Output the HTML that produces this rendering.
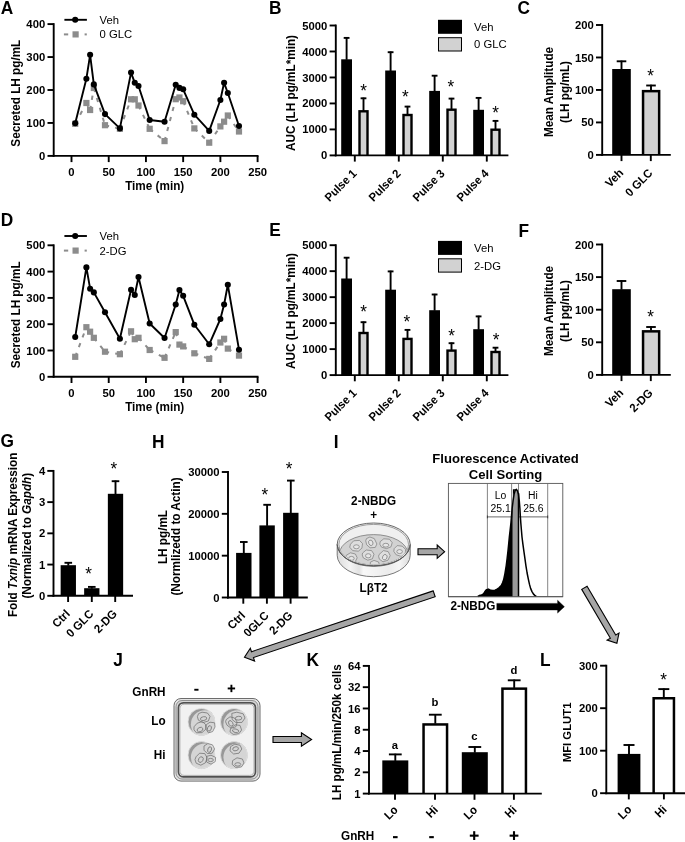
<!DOCTYPE html>
<html lang="en">
<head>
<meta charset="utf-8">
<title>Figure</title>
<style>
html,body{margin:0;padding:0;background:#fff;}
body{width:685px;height:842px;overflow:hidden;font-family:"Liberation Sans", sans-serif;}
svg{display:block;filter:grayscale(1) blur(0.38px);}
svg text{font-family:"Liberation Sans", sans-serif;fill:#000;}
</style>
</head>
<body>
<svg width="685" height="842" viewBox="0 0 685 842">
<rect x="0" y="0" width="685" height="842" fill="#fff"/>
<g stroke="#8c8c8c" stroke-width="2" stroke-dasharray="4.2 6.15" fill="none">
<line x1="75.22" y1="123.8" x2="86.39" y2="103"/>
<line x1="86.39" y1="103" x2="90.11" y2="110"/>
<line x1="90.11" y1="110" x2="93.83" y2="88"/>
<line x1="93.83" y1="88" x2="105" y2="125.2"/>
<line x1="105" y1="125.2" x2="119.89" y2="128.8"/>
<line x1="119.89" y1="128.8" x2="131.05" y2="99.3"/>
<line x1="131.05" y1="99.3" x2="134.77" y2="99.3"/>
<line x1="134.77" y1="99.3" x2="138.5" y2="105.5"/>
<line x1="138.5" y1="105.5" x2="149.66" y2="128.8"/>
<line x1="149.66" y1="128.8" x2="164.55" y2="141.1"/>
<line x1="164.55" y1="141.1" x2="175.72" y2="99.2"/>
<line x1="175.72" y1="99.2" x2="179.44" y2="97.5"/>
<line x1="179.44" y1="97.5" x2="183.16" y2="101.2"/>
<line x1="183.16" y1="101.2" x2="194.33" y2="128.4"/>
<line x1="194.33" y1="128.4" x2="209.21" y2="142.7"/>
<line x1="209.21" y1="142.7" x2="220.38" y2="126.4"/>
<line x1="220.38" y1="126.4" x2="224.1" y2="121.7"/>
<line x1="224.1" y1="121.7" x2="227.82" y2="115.5"/>
<line x1="227.82" y1="115.5" x2="238.99" y2="131.5"/>
</g>
<rect x="72.12" y="120.7" width="6.2" height="6.2" fill="#8c8c8c" />
<rect x="83.29" y="99.9" width="6.2" height="6.2" fill="#8c8c8c" />
<rect x="87.01" y="106.9" width="6.2" height="6.2" fill="#8c8c8c" />
<rect x="90.73" y="84.9" width="6.2" height="6.2" fill="#8c8c8c" />
<rect x="101.9" y="122.1" width="6.2" height="6.2" fill="#8c8c8c" />
<rect x="116.79" y="125.7" width="6.2" height="6.2" fill="#8c8c8c" />
<rect x="127.95" y="96.2" width="6.2" height="6.2" fill="#8c8c8c" />
<rect x="131.67" y="96.2" width="6.2" height="6.2" fill="#8c8c8c" />
<rect x="135.4" y="102.4" width="6.2" height="6.2" fill="#8c8c8c" />
<rect x="146.56" y="125.7" width="6.2" height="6.2" fill="#8c8c8c" />
<rect x="161.45" y="138" width="6.2" height="6.2" fill="#8c8c8c" />
<rect x="172.62" y="96.1" width="6.2" height="6.2" fill="#8c8c8c" />
<rect x="176.34" y="94.4" width="6.2" height="6.2" fill="#8c8c8c" />
<rect x="180.06" y="98.1" width="6.2" height="6.2" fill="#8c8c8c" />
<rect x="191.23" y="125.3" width="6.2" height="6.2" fill="#8c8c8c" />
<rect x="206.11" y="139.6" width="6.2" height="6.2" fill="#8c8c8c" />
<rect x="217.28" y="123.3" width="6.2" height="6.2" fill="#8c8c8c" />
<rect x="221" y="118.6" width="6.2" height="6.2" fill="#8c8c8c" />
<rect x="224.72" y="112.4" width="6.2" height="6.2" fill="#8c8c8c" />
<rect x="235.89" y="128.4" width="6.2" height="6.2" fill="#8c8c8c" />
<polyline points="75.22,123.3 86.39,78.7 90.11,54.8 93.83,84.4 105,114.1 119.89,128.4 131.05,72.6 134.77,82.8 138.5,86 149.66,120 164.55,121.7 175.72,84.8 179.44,87.9 183.16,89.3 194.33,114.7 209.21,130.9 220.38,100 224.1,82.8 227.82,93 238.99,126" fill="none" stroke="#000" stroke-width="1.9" stroke-linejoin="round"/>
<circle cx="75.22" cy="123.3" r="3.05" fill="#000"/>
<circle cx="86.39" cy="78.7" r="3.05" fill="#000"/>
<circle cx="90.11" cy="54.8" r="3.05" fill="#000"/>
<circle cx="93.83" cy="84.4" r="3.05" fill="#000"/>
<circle cx="105" cy="114.1" r="3.05" fill="#000"/>
<circle cx="119.89" cy="128.4" r="3.05" fill="#000"/>
<circle cx="131.05" cy="72.6" r="3.05" fill="#000"/>
<circle cx="134.77" cy="82.8" r="3.05" fill="#000"/>
<circle cx="138.5" cy="86" r="3.05" fill="#000"/>
<circle cx="149.66" cy="120" r="3.05" fill="#000"/>
<circle cx="164.55" cy="121.7" r="3.05" fill="#000"/>
<circle cx="175.72" cy="84.8" r="3.05" fill="#000"/>
<circle cx="179.44" cy="87.9" r="3.05" fill="#000"/>
<circle cx="183.16" cy="89.3" r="3.05" fill="#000"/>
<circle cx="194.33" cy="114.7" r="3.05" fill="#000"/>
<circle cx="209.21" cy="130.9" r="3.05" fill="#000"/>
<circle cx="220.38" cy="100" r="3.05" fill="#000"/>
<circle cx="224.1" cy="82.8" r="3.05" fill="#000"/>
<circle cx="227.82" cy="93" r="3.05" fill="#000"/>
<circle cx="238.99" cy="126" r="3.05" fill="#000"/>
<line x1="53.7" y1="23.15" x2="53.7" y2="156.85" stroke="#000" stroke-width="1.9" />
<line x1="47.5" y1="155.9" x2="53.7" y2="155.9" stroke="#000" stroke-width="1.9" />
<text font-size="11.3" font-weight="bold" text-anchor="end" transform="translate(45.2,159.95) scale(1,1.04)" >0</text>
<line x1="47.5" y1="122.95" x2="53.7" y2="122.95" stroke="#000" stroke-width="1.9" />
<text font-size="11.3" font-weight="bold" text-anchor="end" transform="translate(45.2,127) scale(1,1.04)" >100</text>
<line x1="47.5" y1="90" x2="53.7" y2="90" stroke="#000" stroke-width="1.9" />
<text font-size="11.3" font-weight="bold" text-anchor="end" transform="translate(45.2,94.05) scale(1,1.04)" >200</text>
<line x1="47.5" y1="57.05" x2="53.7" y2="57.05" stroke="#000" stroke-width="1.9" />
<text font-size="11.3" font-weight="bold" text-anchor="end" transform="translate(45.2,61.1) scale(1,1.04)" >300</text>
<line x1="47.5" y1="24.1" x2="53.7" y2="24.1" stroke="#000" stroke-width="1.9" />
<text font-size="11.3" font-weight="bold" text-anchor="end" transform="translate(45.2,28.15) scale(1,1.04)" >400</text>
<line x1="52.75" y1="155.9" x2="258.5" y2="155.9" stroke="#000" stroke-width="1.9" />
<line x1="71.5" y1="155.9" x2="71.5" y2="162.1" stroke="#000" stroke-width="1.9" />
<text font-size="11.3" font-weight="bold" text-anchor="middle" transform="translate(71.5,175.8) scale(1,1.04)" >0</text>
<line x1="108.72" y1="155.9" x2="108.72" y2="162.1" stroke="#000" stroke-width="1.9" />
<text font-size="11.3" font-weight="bold" text-anchor="middle" transform="translate(108.72,175.8) scale(1,1.04)" >50</text>
<line x1="145.94" y1="155.9" x2="145.94" y2="162.1" stroke="#000" stroke-width="1.9" />
<text font-size="11.3" font-weight="bold" text-anchor="middle" transform="translate(145.94,175.8) scale(1,1.04)" >100</text>
<line x1="183.16" y1="155.9" x2="183.16" y2="162.1" stroke="#000" stroke-width="1.9" />
<text font-size="11.3" font-weight="bold" text-anchor="middle" transform="translate(183.16,175.8) scale(1,1.04)" >150</text>
<line x1="220.38" y1="155.9" x2="220.38" y2="162.1" stroke="#000" stroke-width="1.9" />
<text font-size="11.3" font-weight="bold" text-anchor="middle" transform="translate(220.38,175.8) scale(1,1.04)" >200</text>
<line x1="257.6" y1="155.9" x2="257.6" y2="162.1" stroke="#000" stroke-width="1.9" />
<text font-size="11.3" font-weight="bold" text-anchor="middle" transform="translate(257.6,175.8) scale(1,1.04)" >250</text>
<text font-size="11.75" font-weight="bold" text-anchor="middle" transform="translate(154.7,190.1) scale(1,1.04)" >Time (min)</text>
<text font-size="11.75" font-weight="bold" text-anchor="middle" transform="translate(19.6,93.2) rotate(-90) scale(1,1.04)" >Secreted LH pg/mL</text>
<line x1="64.4" y1="19.8" x2="86.9" y2="19.8" stroke="#000" stroke-width="1.9" />
<circle cx="75.2" cy="19.8" r="3.05" fill="#000"/>
<text font-size="11.3" font-weight="normal" text-anchor="start" transform="translate(99.5,23.7) scale(1,1.04)" >Veh</text>
<line x1="63.9" y1="34.4" x2="68.2" y2="34.4" stroke="#8c8c8c" stroke-width="2" />
<line x1="84.6" y1="34.4" x2="86.8" y2="34.4" stroke="#8c8c8c" stroke-width="2" />
<rect x="72.5" y="31.3" width="6.2" height="6.2" fill="#8c8c8c" />
<text font-size="11.3" font-weight="normal" text-anchor="start" transform="translate(99.5,38.3) scale(1,1.04)" >0 GLC</text>
<text font-size="17.3" font-weight="bold" text-anchor="start" transform="translate(0.85,13.5) scale(1,1.04)" >A</text>
<g stroke="#8c8c8c" stroke-width="2" stroke-dasharray="4.2 6.15" fill="none">
<line x1="75.22" y1="356.8" x2="86.39" y2="327.2"/>
<line x1="86.39" y1="327.2" x2="90.11" y2="331.7"/>
<line x1="90.11" y1="331.7" x2="93.83" y2="337.8"/>
<line x1="93.83" y1="337.8" x2="105" y2="351.7"/>
<line x1="105" y1="351.7" x2="119.89" y2="354.2"/>
<line x1="119.89" y1="354.2" x2="131.05" y2="331.3"/>
<line x1="131.05" y1="331.3" x2="134.77" y2="339.2"/>
<line x1="134.77" y1="339.2" x2="138.5" y2="337.8"/>
<line x1="138.5" y1="337.8" x2="149.66" y2="350"/>
<line x1="149.66" y1="350" x2="164.55" y2="357.8"/>
<line x1="164.55" y1="357.8" x2="175.72" y2="332.1"/>
<line x1="175.72" y1="332.1" x2="179.44" y2="344.6"/>
<line x1="179.44" y1="344.6" x2="183.16" y2="346.4"/>
<line x1="183.16" y1="346.4" x2="194.33" y2="353.3"/>
<line x1="194.33" y1="353.3" x2="209.21" y2="358.9"/>
<line x1="209.21" y1="358.9" x2="220.38" y2="342.5"/>
<line x1="220.38" y1="342.5" x2="224.1" y2="338.8"/>
<line x1="224.1" y1="338.8" x2="227.82" y2="348.6"/>
<line x1="227.82" y1="348.6" x2="238.99" y2="355.6"/>
</g>
<rect x="72.12" y="353.7" width="6.2" height="6.2" fill="#8c8c8c" />
<rect x="83.29" y="324.1" width="6.2" height="6.2" fill="#8c8c8c" />
<rect x="87.01" y="328.6" width="6.2" height="6.2" fill="#8c8c8c" />
<rect x="90.73" y="334.7" width="6.2" height="6.2" fill="#8c8c8c" />
<rect x="101.9" y="348.6" width="6.2" height="6.2" fill="#8c8c8c" />
<rect x="116.79" y="351.1" width="6.2" height="6.2" fill="#8c8c8c" />
<rect x="127.95" y="328.2" width="6.2" height="6.2" fill="#8c8c8c" />
<rect x="131.67" y="336.1" width="6.2" height="6.2" fill="#8c8c8c" />
<rect x="135.4" y="334.7" width="6.2" height="6.2" fill="#8c8c8c" />
<rect x="146.56" y="346.9" width="6.2" height="6.2" fill="#8c8c8c" />
<rect x="161.45" y="354.7" width="6.2" height="6.2" fill="#8c8c8c" />
<rect x="172.62" y="329" width="6.2" height="6.2" fill="#8c8c8c" />
<rect x="176.34" y="341.5" width="6.2" height="6.2" fill="#8c8c8c" />
<rect x="180.06" y="343.3" width="6.2" height="6.2" fill="#8c8c8c" />
<rect x="191.23" y="350.2" width="6.2" height="6.2" fill="#8c8c8c" />
<rect x="206.11" y="355.8" width="6.2" height="6.2" fill="#8c8c8c" />
<rect x="217.28" y="339.4" width="6.2" height="6.2" fill="#8c8c8c" />
<rect x="221" y="335.7" width="6.2" height="6.2" fill="#8c8c8c" />
<rect x="224.72" y="345.5" width="6.2" height="6.2" fill="#8c8c8c" />
<rect x="235.89" y="352.5" width="6.2" height="6.2" fill="#8c8c8c" />
<polyline points="75.22,337 86.39,267.4 90.11,288.7 93.83,292.4 105,312.3 119.89,338.8 131.05,289.7 134.77,295 138.5,277 149.66,323.5 164.55,338 175.72,304.5 179.44,290.1 183.16,295.8 194.33,324.7 209.21,344.3 220.38,319 224.1,304.5 227.82,284.8 238.99,349.7" fill="none" stroke="#000" stroke-width="1.9" stroke-linejoin="round"/>
<circle cx="75.22" cy="337" r="3.05" fill="#000"/>
<circle cx="86.39" cy="267.4" r="3.05" fill="#000"/>
<circle cx="90.11" cy="288.7" r="3.05" fill="#000"/>
<circle cx="93.83" cy="292.4" r="3.05" fill="#000"/>
<circle cx="105" cy="312.3" r="3.05" fill="#000"/>
<circle cx="119.89" cy="338.8" r="3.05" fill="#000"/>
<circle cx="131.05" cy="289.7" r="3.05" fill="#000"/>
<circle cx="134.77" cy="295" r="3.05" fill="#000"/>
<circle cx="138.5" cy="277" r="3.05" fill="#000"/>
<circle cx="149.66" cy="323.5" r="3.05" fill="#000"/>
<circle cx="164.55" cy="338" r="3.05" fill="#000"/>
<circle cx="175.72" cy="304.5" r="3.05" fill="#000"/>
<circle cx="179.44" cy="290.1" r="3.05" fill="#000"/>
<circle cx="183.16" cy="295.8" r="3.05" fill="#000"/>
<circle cx="194.33" cy="324.7" r="3.05" fill="#000"/>
<circle cx="209.21" cy="344.3" r="3.05" fill="#000"/>
<circle cx="220.38" cy="319" r="3.05" fill="#000"/>
<circle cx="224.1" cy="304.5" r="3.05" fill="#000"/>
<circle cx="227.82" cy="284.8" r="3.05" fill="#000"/>
<circle cx="238.99" cy="349.7" r="3.05" fill="#000"/>
<line x1="53.7" y1="244.35" x2="53.7" y2="377.75" stroke="#000" stroke-width="1.9" />
<line x1="47.5" y1="376.8" x2="53.7" y2="376.8" stroke="#000" stroke-width="1.9" />
<text font-size="11.3" font-weight="bold" text-anchor="end" transform="translate(45.2,380.85) scale(1,1.04)" >0</text>
<line x1="47.5" y1="350.5" x2="53.7" y2="350.5" stroke="#000" stroke-width="1.9" />
<text font-size="11.3" font-weight="bold" text-anchor="end" transform="translate(45.2,354.55) scale(1,1.04)" >100</text>
<line x1="47.5" y1="324.2" x2="53.7" y2="324.2" stroke="#000" stroke-width="1.9" />
<text font-size="11.3" font-weight="bold" text-anchor="end" transform="translate(45.2,328.25) scale(1,1.04)" >200</text>
<line x1="47.5" y1="297.9" x2="53.7" y2="297.9" stroke="#000" stroke-width="1.9" />
<text font-size="11.3" font-weight="bold" text-anchor="end" transform="translate(45.2,301.95) scale(1,1.04)" >300</text>
<line x1="47.5" y1="271.6" x2="53.7" y2="271.6" stroke="#000" stroke-width="1.9" />
<text font-size="11.3" font-weight="bold" text-anchor="end" transform="translate(45.2,275.65) scale(1,1.04)" >400</text>
<line x1="47.5" y1="245.3" x2="53.7" y2="245.3" stroke="#000" stroke-width="1.9" />
<text font-size="11.3" font-weight="bold" text-anchor="end" transform="translate(45.2,249.35) scale(1,1.04)" >500</text>
<line x1="52.75" y1="376.8" x2="258.5" y2="376.8" stroke="#000" stroke-width="1.9" />
<line x1="71.5" y1="376.8" x2="71.5" y2="383" stroke="#000" stroke-width="1.9" />
<text font-size="11.3" font-weight="bold" text-anchor="middle" transform="translate(71.5,396.7) scale(1,1.04)" >0</text>
<line x1="108.72" y1="376.8" x2="108.72" y2="383" stroke="#000" stroke-width="1.9" />
<text font-size="11.3" font-weight="bold" text-anchor="middle" transform="translate(108.72,396.7) scale(1,1.04)" >50</text>
<line x1="145.94" y1="376.8" x2="145.94" y2="383" stroke="#000" stroke-width="1.9" />
<text font-size="11.3" font-weight="bold" text-anchor="middle" transform="translate(145.94,396.7) scale(1,1.04)" >100</text>
<line x1="183.16" y1="376.8" x2="183.16" y2="383" stroke="#000" stroke-width="1.9" />
<text font-size="11.3" font-weight="bold" text-anchor="middle" transform="translate(183.16,396.7) scale(1,1.04)" >150</text>
<line x1="220.38" y1="376.8" x2="220.38" y2="383" stroke="#000" stroke-width="1.9" />
<text font-size="11.3" font-weight="bold" text-anchor="middle" transform="translate(220.38,396.7) scale(1,1.04)" >200</text>
<line x1="257.6" y1="376.8" x2="257.6" y2="383" stroke="#000" stroke-width="1.9" />
<text font-size="11.3" font-weight="bold" text-anchor="middle" transform="translate(257.6,396.7) scale(1,1.04)" >250</text>
<text font-size="11.75" font-weight="bold" text-anchor="middle" transform="translate(154.7,411) scale(1,1.04)" >Time (min)</text>
<text font-size="11.75" font-weight="bold" text-anchor="middle" transform="translate(19.6,314.9) rotate(-90) scale(1,1.04)" >Secreted LH pg/mL</text>
<line x1="64.4" y1="236" x2="86.9" y2="236" stroke="#000" stroke-width="1.9" />
<circle cx="75.2" cy="236" r="3.05" fill="#000"/>
<text font-size="11.3" font-weight="normal" text-anchor="start" transform="translate(99.5,239.9) scale(1,1.04)" >Veh</text>
<line x1="63.9" y1="250.6" x2="68.2" y2="250.6" stroke="#8c8c8c" stroke-width="2" />
<line x1="84.6" y1="250.6" x2="86.8" y2="250.6" stroke="#8c8c8c" stroke-width="2" />
<rect x="72.5" y="247.5" width="6.2" height="6.2" fill="#8c8c8c" />
<text font-size="11.3" font-weight="normal" text-anchor="start" transform="translate(99.5,254.5) scale(1,1.04)" >2-DG</text>
<text font-size="17.3" font-weight="bold" text-anchor="start" transform="translate(0.85,225.5) scale(1,1.04)" >D</text>
<rect x="341.2" y="59.3" width="10.8" height="96.1" fill="#000" />
<line x1="346.6" y1="37.2" x2="346.6" y2="59.8" stroke="#000" stroke-width="1.9" />
<line x1="343.7" y1="37.9" x2="349.5" y2="37.9" stroke="#000" stroke-width="1.9" />
<line x1="363.5" y1="97.6" x2="363.5" y2="110.9" stroke="#000" stroke-width="1.9" />
<line x1="360.6" y1="98.3" x2="366.4" y2="98.3" stroke="#000" stroke-width="1.9" />
<rect x="358.3" y="110.1" width="10.4" height="45.3" fill="#000" />
<rect x="360.7" y="112.5" width="5.6" height="43.1" fill="#d2d2d2" />
<text font-size="17.2" font-weight="normal" text-anchor="middle" transform="translate(363.5,97.34) scale(1,1.04)" >*</text>
<rect x="385.2" y="70.5" width="10.8" height="84.9" fill="#000" />
<line x1="390.6" y1="51.5" x2="390.6" y2="71" stroke="#000" stroke-width="1.9" />
<line x1="387.7" y1="52.2" x2="393.5" y2="52.2" stroke="#000" stroke-width="1.9" />
<line x1="407.5" y1="105.9" x2="407.5" y2="114.6" stroke="#000" stroke-width="1.9" />
<line x1="404.6" y1="106.6" x2="410.4" y2="106.6" stroke="#000" stroke-width="1.9" />
<rect x="402.3" y="113.8" width="10.4" height="41.6" fill="#000" />
<rect x="404.7" y="116.2" width="5.6" height="39.4" fill="#d2d2d2" />
<text font-size="17.2" font-weight="normal" text-anchor="middle" transform="translate(405.3,102.74) scale(1,1.04)" >*</text>
<rect x="429.2" y="90.9" width="10.8" height="64.5" fill="#000" />
<line x1="434.6" y1="75" x2="434.6" y2="91.4" stroke="#000" stroke-width="1.9" />
<line x1="431.7" y1="75.7" x2="437.5" y2="75.7" stroke="#000" stroke-width="1.9" />
<line x1="451.5" y1="97.9" x2="451.5" y2="109.3" stroke="#000" stroke-width="1.9" />
<line x1="448.6" y1="98.6" x2="454.4" y2="98.6" stroke="#000" stroke-width="1.9" />
<rect x="446.3" y="108.5" width="10.4" height="46.9" fill="#000" />
<rect x="448.7" y="110.9" width="5.6" height="44.7" fill="#d2d2d2" />
<text font-size="17.2" font-weight="normal" text-anchor="middle" transform="translate(450.9,92.74) scale(1,1.04)" >*</text>
<rect x="473.2" y="109.8" width="10.8" height="45.6" fill="#000" />
<line x1="478.6" y1="97.2" x2="478.6" y2="110.3" stroke="#000" stroke-width="1.9" />
<line x1="475.7" y1="97.9" x2="481.5" y2="97.9" stroke="#000" stroke-width="1.9" />
<line x1="495.5" y1="120.2" x2="495.5" y2="129.3" stroke="#000" stroke-width="1.9" />
<line x1="492.6" y1="120.9" x2="498.4" y2="120.9" stroke="#000" stroke-width="1.9" />
<rect x="490.3" y="128.5" width="10.4" height="26.9" fill="#000" />
<rect x="492.7" y="130.9" width="5.6" height="24.7" fill="#d2d2d2" />
<text font-size="17.2" font-weight="normal" text-anchor="middle" transform="translate(495.5,118.94) scale(1,1.04)" >*</text>
<line x1="335.8" y1="24.55" x2="335.8" y2="156.35" stroke="#000" stroke-width="1.9" />
<line x1="329.6" y1="155.4" x2="335.8" y2="155.4" stroke="#000" stroke-width="1.9" />
<text font-size="11.3" font-weight="bold" text-anchor="end" transform="translate(327.3,159.45) scale(1,1.04)" >0</text>
<line x1="329.6" y1="129.42" x2="335.8" y2="129.42" stroke="#000" stroke-width="1.9" />
<text font-size="11.3" font-weight="bold" text-anchor="end" transform="translate(327.3,133.47) scale(1,1.04)" >1000</text>
<line x1="329.6" y1="103.44" x2="335.8" y2="103.44" stroke="#000" stroke-width="1.9" />
<text font-size="11.3" font-weight="bold" text-anchor="end" transform="translate(327.3,107.49) scale(1,1.04)" >2000</text>
<line x1="329.6" y1="77.46" x2="335.8" y2="77.46" stroke="#000" stroke-width="1.9" />
<text font-size="11.3" font-weight="bold" text-anchor="end" transform="translate(327.3,81.51) scale(1,1.04)" >3000</text>
<line x1="329.6" y1="51.48" x2="335.8" y2="51.48" stroke="#000" stroke-width="1.9" />
<text font-size="11.3" font-weight="bold" text-anchor="end" transform="translate(327.3,55.53) scale(1,1.04)" >4000</text>
<line x1="329.6" y1="25.5" x2="335.8" y2="25.5" stroke="#000" stroke-width="1.9" />
<text font-size="11.3" font-weight="bold" text-anchor="end" transform="translate(327.3,29.55) scale(1,1.04)" >5000</text>
<line x1="334.85" y1="155.4" x2="508.4" y2="155.4" stroke="#000" stroke-width="1.9" />
<line x1="354.8" y1="155.4" x2="354.8" y2="161.6" stroke="#000" stroke-width="1.9" />
<text font-size="11.3" font-weight="bold" text-anchor="end" transform="translate(354.4,171.2) rotate(-45) scale(1,1.04)" x="0" y="0" dy="0.36em">Pulse 1</text>
<line x1="398.8" y1="155.4" x2="398.8" y2="161.6" stroke="#000" stroke-width="1.9" />
<text font-size="11.3" font-weight="bold" text-anchor="end" transform="translate(398.4,171.2) rotate(-45) scale(1,1.04)" x="0" y="0" dy="0.36em">Pulse 2</text>
<line x1="442.8" y1="155.4" x2="442.8" y2="161.6" stroke="#000" stroke-width="1.9" />
<text font-size="11.3" font-weight="bold" text-anchor="end" transform="translate(442.4,171.2) rotate(-45) scale(1,1.04)" x="0" y="0" dy="0.36em">Pulse 3</text>
<line x1="486.8" y1="155.4" x2="486.8" y2="161.6" stroke="#000" stroke-width="1.9" />
<text font-size="11.3" font-weight="bold" text-anchor="end" transform="translate(486.4,171.2) rotate(-45) scale(1,1.04)" x="0" y="0" dy="0.36em">Pulse 4</text>
<text font-size="11.75" font-weight="bold" text-anchor="middle" transform="translate(294.5,93) rotate(-90) scale(1,1.04)" >AUC (LH pg/mL*min)</text>
<rect x="438" y="19.8" width="24" height="14" fill="#000" />
<text font-size="11.3" font-weight="normal" text-anchor="start" transform="translate(474,30.7) scale(1,1.04)" >Veh</text>
<rect x="438.5" y="37.7" width="23" height="13.3" fill="#d2d2d2" stroke="#000" stroke-width="1" />
<text font-size="11.3" font-weight="normal" text-anchor="start" transform="translate(474,48.4) scale(1,1.04)" >0 GLC</text>
<text font-size="17.3" font-weight="bold" text-anchor="start" transform="translate(268.9,13.5) scale(1,1.04)" >B</text>
<rect x="341.2" y="278.5" width="10.8" height="96.6" fill="#000" />
<line x1="346.6" y1="257" x2="346.6" y2="279" stroke="#000" stroke-width="1.9" />
<line x1="343.7" y1="257.7" x2="349.5" y2="257.7" stroke="#000" stroke-width="1.9" />
<line x1="363.5" y1="321.5" x2="363.5" y2="332.6" stroke="#000" stroke-width="1.9" />
<line x1="360.6" y1="322.2" x2="366.4" y2="322.2" stroke="#000" stroke-width="1.9" />
<rect x="358.3" y="331.8" width="10.4" height="43.3" fill="#000" />
<rect x="360.7" y="334.2" width="5.6" height="41.1" fill="#d2d2d2" />
<text font-size="17.2" font-weight="normal" text-anchor="middle" transform="translate(363.5,317.74) scale(1,1.04)" >*</text>
<rect x="385.2" y="289.7" width="10.8" height="85.4" fill="#000" />
<line x1="390.6" y1="270.7" x2="390.6" y2="290.2" stroke="#000" stroke-width="1.9" />
<line x1="387.7" y1="271.4" x2="393.5" y2="271.4" stroke="#000" stroke-width="1.9" />
<line x1="407.5" y1="329.2" x2="407.5" y2="338.5" stroke="#000" stroke-width="1.9" />
<line x1="404.6" y1="329.9" x2="410.4" y2="329.9" stroke="#000" stroke-width="1.9" />
<rect x="402.3" y="337.7" width="10.4" height="37.4" fill="#000" />
<rect x="404.7" y="340.1" width="5.6" height="35.2" fill="#d2d2d2" />
<text font-size="17.2" font-weight="normal" text-anchor="middle" transform="translate(406.9,327.94) scale(1,1.04)" >*</text>
<rect x="429.2" y="310.2" width="10.8" height="64.9" fill="#000" />
<line x1="434.6" y1="293.8" x2="434.6" y2="310.7" stroke="#000" stroke-width="1.9" />
<line x1="431.7" y1="294.5" x2="437.5" y2="294.5" stroke="#000" stroke-width="1.9" />
<line x1="451.5" y1="342.5" x2="451.5" y2="350.2" stroke="#000" stroke-width="1.9" />
<line x1="448.6" y1="343.2" x2="454.4" y2="343.2" stroke="#000" stroke-width="1.9" />
<rect x="446.3" y="349.4" width="10.4" height="25.7" fill="#000" />
<rect x="448.7" y="351.8" width="5.6" height="23.5" fill="#d2d2d2" />
<text font-size="17.2" font-weight="normal" text-anchor="middle" transform="translate(451.5,342.24) scale(1,1.04)" >*</text>
<rect x="473.2" y="329.2" width="10.8" height="45.9" fill="#000" />
<line x1="478.6" y1="315.7" x2="478.6" y2="329.7" stroke="#000" stroke-width="1.9" />
<line x1="475.7" y1="316.4" x2="481.5" y2="316.4" stroke="#000" stroke-width="1.9" />
<line x1="495.5" y1="347" x2="495.5" y2="351.6" stroke="#000" stroke-width="1.9" />
<line x1="492.6" y1="347.7" x2="498.4" y2="347.7" stroke="#000" stroke-width="1.9" />
<rect x="490.3" y="350.8" width="10.4" height="24.3" fill="#000" />
<rect x="492.7" y="353.2" width="5.6" height="22.1" fill="#d2d2d2" />
<text font-size="17.2" font-weight="normal" text-anchor="middle" transform="translate(496.1,345.74) scale(1,1.04)" >*</text>
<line x1="335.8" y1="244.25" x2="335.8" y2="376.05" stroke="#000" stroke-width="1.9" />
<line x1="329.6" y1="375.1" x2="335.8" y2="375.1" stroke="#000" stroke-width="1.9" />
<text font-size="11.3" font-weight="bold" text-anchor="end" transform="translate(327.3,379.15) scale(1,1.04)" >0</text>
<line x1="329.6" y1="349.12" x2="335.8" y2="349.12" stroke="#000" stroke-width="1.9" />
<text font-size="11.3" font-weight="bold" text-anchor="end" transform="translate(327.3,353.17) scale(1,1.04)" >1000</text>
<line x1="329.6" y1="323.14" x2="335.8" y2="323.14" stroke="#000" stroke-width="1.9" />
<text font-size="11.3" font-weight="bold" text-anchor="end" transform="translate(327.3,327.19) scale(1,1.04)" >2000</text>
<line x1="329.6" y1="297.16" x2="335.8" y2="297.16" stroke="#000" stroke-width="1.9" />
<text font-size="11.3" font-weight="bold" text-anchor="end" transform="translate(327.3,301.21) scale(1,1.04)" >3000</text>
<line x1="329.6" y1="271.18" x2="335.8" y2="271.18" stroke="#000" stroke-width="1.9" />
<text font-size="11.3" font-weight="bold" text-anchor="end" transform="translate(327.3,275.23) scale(1,1.04)" >4000</text>
<line x1="329.6" y1="245.2" x2="335.8" y2="245.2" stroke="#000" stroke-width="1.9" />
<text font-size="11.3" font-weight="bold" text-anchor="end" transform="translate(327.3,249.25) scale(1,1.04)" >5000</text>
<line x1="334.85" y1="375.1" x2="508.4" y2="375.1" stroke="#000" stroke-width="1.9" />
<line x1="354.8" y1="375.1" x2="354.8" y2="381.3" stroke="#000" stroke-width="1.9" />
<text font-size="11.3" font-weight="bold" text-anchor="end" transform="translate(354.4,390.9) rotate(-45) scale(1,1.04)" x="0" y="0" dy="0.36em">Pulse 1</text>
<line x1="398.8" y1="375.1" x2="398.8" y2="381.3" stroke="#000" stroke-width="1.9" />
<text font-size="11.3" font-weight="bold" text-anchor="end" transform="translate(398.4,390.9) rotate(-45) scale(1,1.04)" x="0" y="0" dy="0.36em">Pulse 2</text>
<line x1="442.8" y1="375.1" x2="442.8" y2="381.3" stroke="#000" stroke-width="1.9" />
<text font-size="11.3" font-weight="bold" text-anchor="end" transform="translate(442.4,390.9) rotate(-45) scale(1,1.04)" x="0" y="0" dy="0.36em">Pulse 3</text>
<line x1="486.8" y1="375.1" x2="486.8" y2="381.3" stroke="#000" stroke-width="1.9" />
<text font-size="11.3" font-weight="bold" text-anchor="end" transform="translate(486.4,390.9) rotate(-45) scale(1,1.04)" x="0" y="0" dy="0.36em">Pulse 4</text>
<text font-size="11.75" font-weight="bold" text-anchor="middle" transform="translate(294.5,311) rotate(-90) scale(1,1.04)" >AUC (LH pg/mL*min)</text>
<rect x="438" y="240.9" width="24" height="14" fill="#000" />
<text font-size="11.3" font-weight="normal" text-anchor="start" transform="translate(474,251.8) scale(1,1.04)" >Veh</text>
<rect x="438.5" y="258.8" width="23" height="13.3" fill="#d2d2d2" stroke="#000" stroke-width="1" />
<text font-size="11.3" font-weight="normal" text-anchor="start" transform="translate(474,269.5) scale(1,1.04)" >2-DG</text>
<text font-size="17.3" font-weight="bold" text-anchor="start" transform="translate(269.3,235.5) scale(1,1.04)" >E</text>
<rect x="612.2" y="69" width="18.6" height="85.9" fill="#000" />
<line x1="621.5" y1="60.6" x2="621.5" y2="69.5" stroke="#000" stroke-width="1.9" />
<line x1="616.7" y1="61.3" x2="626.3" y2="61.3" stroke="#000" stroke-width="1.9" />
<line x1="651" y1="84.8" x2="651" y2="90.4" stroke="#000" stroke-width="1.9" />
<line x1="646.2" y1="85.5" x2="655.8" y2="85.5" stroke="#000" stroke-width="1.9" />
<rect x="641.8" y="89.9" width="18.6" height="65" fill="#000" />
<rect x="644.3" y="92.4" width="13.6" height="62.7" fill="#d2d2d2" />
<text font-size="17.2" font-weight="normal" text-anchor="middle" transform="translate(650.6,81.94) scale(1,1.04)" >*</text>
<line x1="602.2" y1="24.05" x2="602.2" y2="155.85" stroke="#000" stroke-width="1.9" />
<line x1="596" y1="154.9" x2="602.2" y2="154.9" stroke="#000" stroke-width="1.9" />
<text font-size="11.3" font-weight="bold" text-anchor="end" transform="translate(593.8,158.95) scale(1,1.04)" >0</text>
<line x1="596" y1="122.43" x2="602.2" y2="122.43" stroke="#000" stroke-width="1.9" />
<text font-size="11.3" font-weight="bold" text-anchor="end" transform="translate(593.8,126.47) scale(1,1.04)" >50</text>
<line x1="596" y1="89.95" x2="602.2" y2="89.95" stroke="#000" stroke-width="1.9" />
<text font-size="11.3" font-weight="bold" text-anchor="end" transform="translate(593.8,94) scale(1,1.04)" >100</text>
<line x1="596" y1="57.47" x2="602.2" y2="57.47" stroke="#000" stroke-width="1.9" />
<text font-size="11.3" font-weight="bold" text-anchor="end" transform="translate(593.8,61.52) scale(1,1.04)" >150</text>
<line x1="596" y1="25" x2="602.2" y2="25" stroke="#000" stroke-width="1.9" />
<text font-size="11.3" font-weight="bold" text-anchor="end" transform="translate(593.8,29.05) scale(1,1.04)" >200</text>
<line x1="601.25" y1="154.9" x2="670.8" y2="154.9" stroke="#000" stroke-width="1.9" />
<line x1="621.5" y1="154.9" x2="621.5" y2="161.1" stroke="#000" stroke-width="1.9" />
<text font-size="11.3" font-weight="bold" text-anchor="end" transform="translate(621.1,170.7) rotate(-45) scale(1,1.04)" x="0" y="0" dy="0.36em">Veh</text>
<line x1="650.8" y1="154.9" x2="650.8" y2="161.1" stroke="#000" stroke-width="1.9" />
<text font-size="11.3" font-weight="bold" text-anchor="end" transform="translate(650.4,170.7) rotate(-45) scale(1,1.04)" x="0" y="0" dy="0.36em">0 GLC</text>
<text font-size="11.75" font-weight="bold" text-anchor="middle" transform="translate(553.4,92) rotate(-90) scale(1,1.04)" >Mean Amplitude</text>
<text font-size="11.75" font-weight="bold" text-anchor="middle" transform="translate(568.6,92) rotate(-90) scale(1,1.04)" >(LH pg/mL)</text>
<text font-size="17.3" font-weight="bold" text-anchor="start" transform="translate(517.6,13.5) scale(1,1.04)" >C</text>
<rect x="612.2" y="289.2" width="18.6" height="85.7" fill="#000" />
<line x1="621.5" y1="280.3" x2="621.5" y2="289.7" stroke="#000" stroke-width="1.9" />
<line x1="616.7" y1="281" x2="626.3" y2="281" stroke="#000" stroke-width="1.9" />
<line x1="651" y1="326.3" x2="651" y2="330.6" stroke="#000" stroke-width="1.9" />
<line x1="646.2" y1="327" x2="655.8" y2="327" stroke="#000" stroke-width="1.9" />
<rect x="641.8" y="330.1" width="18.6" height="44.8" fill="#000" />
<rect x="644.3" y="332.6" width="13.6" height="42.5" fill="#d2d2d2" />
<text font-size="17.2" font-weight="normal" text-anchor="middle" transform="translate(650.6,323.34) scale(1,1.04)" >*</text>
<line x1="602.2" y1="243.55" x2="602.2" y2="375.85" stroke="#000" stroke-width="1.9" />
<line x1="596" y1="374.9" x2="602.2" y2="374.9" stroke="#000" stroke-width="1.9" />
<text font-size="11.3" font-weight="bold" text-anchor="end" transform="translate(593.8,378.95) scale(1,1.04)" >0</text>
<line x1="596" y1="342.3" x2="602.2" y2="342.3" stroke="#000" stroke-width="1.9" />
<text font-size="11.3" font-weight="bold" text-anchor="end" transform="translate(593.8,346.35) scale(1,1.04)" >50</text>
<line x1="596" y1="309.7" x2="602.2" y2="309.7" stroke="#000" stroke-width="1.9" />
<text font-size="11.3" font-weight="bold" text-anchor="end" transform="translate(593.8,313.75) scale(1,1.04)" >100</text>
<line x1="596" y1="277.1" x2="602.2" y2="277.1" stroke="#000" stroke-width="1.9" />
<text font-size="11.3" font-weight="bold" text-anchor="end" transform="translate(593.8,281.15) scale(1,1.04)" >150</text>
<line x1="596" y1="244.5" x2="602.2" y2="244.5" stroke="#000" stroke-width="1.9" />
<text font-size="11.3" font-weight="bold" text-anchor="end" transform="translate(593.8,248.55) scale(1,1.04)" >200</text>
<line x1="601.25" y1="374.9" x2="670.8" y2="374.9" stroke="#000" stroke-width="1.9" />
<line x1="621.5" y1="374.9" x2="621.5" y2="381.1" stroke="#000" stroke-width="1.9" />
<text font-size="11.3" font-weight="bold" text-anchor="end" transform="translate(621.1,390.7) rotate(-45) scale(1,1.04)" x="0" y="0" dy="0.36em">Veh</text>
<line x1="650.8" y1="374.9" x2="650.8" y2="381.1" stroke="#000" stroke-width="1.9" />
<text font-size="11.3" font-weight="bold" text-anchor="end" transform="translate(650.4,390.7) rotate(-45) scale(1,1.04)" x="0" y="0" dy="0.36em">2-DG</text>
<text font-size="11.75" font-weight="bold" text-anchor="middle" transform="translate(553.4,311) rotate(-90) scale(1,1.04)" >Mean Amplitude</text>
<text font-size="11.75" font-weight="bold" text-anchor="middle" transform="translate(568.6,311) rotate(-90) scale(1,1.04)" >(LH pg/mL)</text>
<text font-size="17.3" font-weight="bold" text-anchor="start" transform="translate(518.4,236.8) scale(1,1.04)" >F</text>
<rect x="60.65" y="565.2" width="15.3" height="30.6" fill="#000" />
<line x1="68.3" y1="562.1" x2="68.3" y2="565.7" stroke="#000" stroke-width="1.9" />
<line x1="64.5" y1="562.8" x2="72.1" y2="562.8" stroke="#000" stroke-width="1.9" />
<rect x="84.15" y="588.2" width="15.3" height="7.6" fill="#000" />
<line x1="91.8" y1="586.2" x2="91.8" y2="588.7" stroke="#000" stroke-width="1.9" />
<line x1="88" y1="586.9" x2="95.6" y2="586.9" stroke="#000" stroke-width="1.9" />
<rect x="107.85" y="493.8" width="15.3" height="102" fill="#000" />
<line x1="115.5" y1="480.5" x2="115.5" y2="494.3" stroke="#000" stroke-width="1.9" />
<line x1="111.7" y1="481.2" x2="119.3" y2="481.2" stroke="#000" stroke-width="1.9" />
<text font-size="17.2" font-weight="normal" text-anchor="middle" transform="translate(88.6,580.44) scale(1,1.04)" >*</text>
<text font-size="17.2" font-weight="normal" text-anchor="middle" transform="translate(113.8,474.74) scale(1,1.04)" >*</text>
<line x1="53.5" y1="469.95" x2="53.5" y2="596.75" stroke="#000" stroke-width="1.9" />
<line x1="47.3" y1="595.8" x2="53.5" y2="595.8" stroke="#000" stroke-width="1.9" />
<text font-size="11.3" font-weight="bold" text-anchor="end" transform="translate(45.2,599.85) scale(1,1.04)" >0</text>
<line x1="47.3" y1="564.57" x2="53.5" y2="564.57" stroke="#000" stroke-width="1.9" />
<text font-size="11.3" font-weight="bold" text-anchor="end" transform="translate(45.2,568.62) scale(1,1.04)" >1</text>
<line x1="47.3" y1="533.35" x2="53.5" y2="533.35" stroke="#000" stroke-width="1.9" />
<text font-size="11.3" font-weight="bold" text-anchor="end" transform="translate(45.2,537.4) scale(1,1.04)" >2</text>
<line x1="47.3" y1="502.12" x2="53.5" y2="502.12" stroke="#000" stroke-width="1.9" />
<text font-size="11.3" font-weight="bold" text-anchor="end" transform="translate(45.2,506.17) scale(1,1.04)" >3</text>
<line x1="47.3" y1="470.9" x2="53.5" y2="470.9" stroke="#000" stroke-width="1.9" />
<text font-size="11.3" font-weight="bold" text-anchor="end" transform="translate(45.2,474.95) scale(1,1.04)" >4</text>
<line x1="52.55" y1="595.8" x2="133" y2="595.8" stroke="#000" stroke-width="1.9" />
<line x1="68.1" y1="595.8" x2="68.1" y2="602" stroke="#000" stroke-width="1.9" />
<text font-size="11.3" font-weight="bold" text-anchor="end" transform="translate(67.7,611.6) rotate(-45) scale(1,1.04)" x="0" y="0" dy="0.36em">Ctrl</text>
<line x1="91.8" y1="595.8" x2="91.8" y2="602" stroke="#000" stroke-width="1.9" />
<text font-size="11.3" font-weight="bold" text-anchor="end" transform="translate(91.4,611.6) rotate(-45) scale(1,1.04)" x="0" y="0" dy="0.36em">0 GLC</text>
<line x1="115.2" y1="595.8" x2="115.2" y2="602" stroke="#000" stroke-width="1.9" />
<text font-size="11.3" font-weight="bold" text-anchor="end" transform="translate(114.8,611.6) rotate(-45) scale(1,1.04)" x="0" y="0" dy="0.36em">2-DG</text>
<text font-size="11.75" font-weight="bold" text-anchor="middle" transform="translate(16.5,534.8) rotate(-90) scale(1,1.04)">Fold <tspan font-style="italic">Txnip</tspan> mRNA Expression</text>
<text font-size="11.75" font-weight="bold" text-anchor="middle" transform="translate(31.2,535.7) rotate(-90) scale(1,1.04)">(Normalized to <tspan font-style="italic">Gapdh</tspan>)</text>
<text font-size="17.3" font-weight="bold" text-anchor="start" transform="translate(0.6,447.4) scale(1,1.04)" >G</text>
<rect x="236.1" y="552.9" width="15.4" height="44.6" fill="#000" />
<line x1="243.8" y1="541.3" x2="243.8" y2="553.4" stroke="#000" stroke-width="1.9" />
<line x1="240" y1="542" x2="247.6" y2="542" stroke="#000" stroke-width="1.9" />
<rect x="259.4" y="525.4" width="15.4" height="72.1" fill="#000" />
<line x1="267.1" y1="504.1" x2="267.1" y2="525.9" stroke="#000" stroke-width="1.9" />
<line x1="263.3" y1="504.8" x2="270.9" y2="504.8" stroke="#000" stroke-width="1.9" />
<rect x="283.1" y="512.8" width="15.4" height="84.7" fill="#000" />
<line x1="290.8" y1="479.9" x2="290.8" y2="513.3" stroke="#000" stroke-width="1.9" />
<line x1="287" y1="480.6" x2="294.6" y2="480.6" stroke="#000" stroke-width="1.9" />
<text font-size="17.2" font-weight="normal" text-anchor="middle" transform="translate(264.8,500.84) scale(1,1.04)" >*</text>
<text font-size="17.2" font-weight="normal" text-anchor="middle" transform="translate(289.2,475.34) scale(1,1.04)" >*</text>
<line x1="228" y1="471.05" x2="228" y2="598.45" stroke="#000" stroke-width="1.9" />
<line x1="221.8" y1="597.5" x2="228" y2="597.5" stroke="#000" stroke-width="1.9" />
<text font-size="11.3" font-weight="bold" text-anchor="end" transform="translate(219.6,601.55) scale(1,1.04)" >0</text>
<line x1="221.8" y1="555.67" x2="228" y2="555.67" stroke="#000" stroke-width="1.9" />
<text font-size="11.3" font-weight="bold" text-anchor="end" transform="translate(219.6,559.71) scale(1,1.04)" >10000</text>
<line x1="221.8" y1="513.83" x2="228" y2="513.83" stroke="#000" stroke-width="1.9" />
<text font-size="11.3" font-weight="bold" text-anchor="end" transform="translate(219.6,517.88) scale(1,1.04)" >20000</text>
<line x1="221.8" y1="472" x2="228" y2="472" stroke="#000" stroke-width="1.9" />
<text font-size="11.3" font-weight="bold" text-anchor="end" transform="translate(219.6,476.05) scale(1,1.04)" >30000</text>
<line x1="227.05" y1="597.5" x2="307.8" y2="597.5" stroke="#000" stroke-width="1.9" />
<line x1="243.3" y1="597.5" x2="243.3" y2="603.7" stroke="#000" stroke-width="1.9" />
<text font-size="11.3" font-weight="bold" text-anchor="end" transform="translate(242.9,613.3) rotate(-45) scale(1,1.04)" x="0" y="0" dy="0.36em">Ctrl</text>
<line x1="266.9" y1="597.5" x2="266.9" y2="603.7" stroke="#000" stroke-width="1.9" />
<text font-size="11.3" font-weight="bold" text-anchor="end" transform="translate(266.5,613.3) rotate(-45) scale(1,1.04)" x="0" y="0" dy="0.36em">0GLC</text>
<line x1="290.6" y1="597.5" x2="290.6" y2="603.7" stroke="#000" stroke-width="1.9" />
<text font-size="11.3" font-weight="bold" text-anchor="end" transform="translate(290.2,613.3) rotate(-45) scale(1,1.04)" x="0" y="0" dy="0.36em">2-DG</text>
<text font-size="11.75" font-weight="bold" text-anchor="middle" transform="translate(166.6,537) rotate(-90) scale(1,1.04)" >LH pg/mL</text>
<text font-size="11.75" font-weight="bold" text-anchor="middle" transform="translate(180.2,536.5) rotate(-90) scale(1,1.04)" >(Normlizedd to Actin)</text>
<text font-size="17.3" font-weight="bold" text-anchor="start" transform="translate(152.1,447.5) scale(1,1.04)" >H</text>
<text font-size="17.3" font-weight="bold" text-anchor="start" transform="translate(333.8,447.5) scale(1,1.04)" >I</text>
<text font-size="11.75" font-weight="bold" text-anchor="middle" transform="translate(373.6,505.3) scale(1,1.04)" >2-NBDG</text>
<text font-size="11.75" font-weight="bold" text-anchor="middle" transform="translate(373.6,518.9) scale(1,1.04)" >+</text>
<text font-size="11.75" font-weight="bold" text-anchor="middle" transform="translate(373.6,592.3) scale(1,1.04)" >L&#946;T2</text>
<g id="dish">
<defs>
<clipPath id="rimclip"><ellipse cx="373.7" cy="544.4" rx="34.6" ry="19.8"/></clipPath>
<linearGradient id="wall" x1="0" x2="1" y1="0" y2="0">
<stop offset="0" stop-color="#dcdcdc"/><stop offset="0.18" stop-color="#f4f4f4"/><stop offset="0.3" stop-color="#e2e2e2"/><stop offset="0.36" stop-color="#f8f8f8"/><stop offset="0.7" stop-color="#ececec"/><stop offset="0.85" stop-color="#f6f6f6"/><stop offset="1" stop-color="#dadada"/>
</linearGradient>
</defs>
<path d="M337.2,544.4 L337.2,555.3 A36.5,21.4 0 0 0 410.2,555.3 L410.2,544.4 Z" fill="url(#wall)" stroke="#6a6a6a" stroke-width="0.9"/>
<ellipse cx="373.7" cy="544.4" rx="36.5" ry="21.4" fill="#efefef" stroke="#6a6a6a" stroke-width="1"/>
<ellipse cx="373.7" cy="544.4" rx="34.8" ry="20" fill="#f0f0f0" stroke="#8a8a8a" stroke-width="0.8"/>
<g clip-path="url(#rimclip)">
<ellipse cx="373.7" cy="553.8" rx="34.2" ry="19.2" fill="#d2d2d2" stroke="#7a7a7a" stroke-width="0.8"/>
<g fill="#dedede" stroke="#808080" stroke-width="0.75" stroke-linejoin="round">
<path d="M350.5,544.2 l3.2,-3.4 l5.8,-0.4 l3,3.2 l-0.6,4.6 l-3.6,3 l-5.6,-0.6 l-3,-3.4 z"/>
<ellipse cx="356.4" cy="546.8" rx="2.9" ry="2" fill="#e7e7e7"/>
<path d="M366.5,538.6 l3.4,-1.6 l4.4,1.6 l2.6,5.4 l-1.6,3.4 l-5.2,0.4 l-3.4,-3 l-1,-4 z"/>
<ellipse cx="370.8" cy="542.8" rx="2.1" ry="2.8" fill="#e7e7e7" transform="rotate(-20 370.8 542.8)"/>
<path d="M380.2,541.6 l3.6,-2.8 l5.6,0.4 l2.8,3.4 l-1.2,4.2 l-4.4,1.8 l-5,-1.4 l-1.8,-3 z"/>
<ellipse cx="385.8" cy="545.2" rx="3" ry="1.9" fill="#e7e7e7"/>
<path d="M394.2,548.6 l3,-3 l5,0.6 l3.4,3.2 l-0.4,4.6 l-4,2.4 l-5,-1.6 l-2.4,-3.4 z"/>
<ellipse cx="399.6" cy="551.6" rx="2.8" ry="2" fill="#e7e7e7"/>
<path d="M362.6,553 l3.6,-3 l5.4,0.6 l2.4,3.6 l-1.6,4.6 l-4.6,1.4 l-4.4,-2.2 l-1.2,-3 z"/>
<ellipse cx="368.2" cy="555.8" rx="2.7" ry="2.1" fill="#e7e7e7"/>
<path d="M379,554.6 l4.4,-4 l4.8,1 l2,4 l-2.2,4.6 l-5,1.6 l-3.6,-2.6 l-0.8,-2.8 z"/>
<ellipse cx="384.8" cy="557.2" rx="2.2" ry="2.8" fill="#e7e7e7" transform="rotate(25 384.8 557.2)"/>
<path d="M346.2,555.4 l4.2,-2.6 l5,1.2 l1.8,3.8 l-2,4 l-5,0.8 l-4,-3 z"/>
<ellipse cx="351.4" cy="558.4" rx="2.8" ry="2" fill="#e7e7e7"/>
<path d="M370.4,562.2 l3.6,-1.8 l4.6,1.6 l1,3.8 l-9.4,0.6 z"/>
</g>
</g>
<path d="M338.6,547.5 A35.2,20.4 0 0 0 408.8,547.5" fill="none" stroke="#6a6a6a" stroke-width="0.8"/>
<path d="M337.2,544.4 A36.5,21.4 0 0 0 410.2,544.4" fill="none" stroke="#5a5a5a" stroke-width="1"/>
</g>
<polygon points="418,554.7 437.2,554.7 437.2,558.3 444.6,551.7 437.2,545.1 437.2,548.7 418,548.7" fill="#a6a6a6" stroke="#000" stroke-width="1.1" stroke-linejoin="miter"/>
<text font-size="13.1" font-weight="bold" text-anchor="middle" transform="translate(505.5,462.6) scale(1,1.04)" >Fluorescence Activated</text>
<text font-size="13.1" font-weight="bold" text-anchor="middle" transform="translate(505.5,478.5) scale(1,1.04)" >Cell Sorting</text>
<rect x="448.4" y="483.4" width="114.4" height="113.3" fill="#fff" stroke="#555" stroke-width="0.9" />
<line x1="487.4" y1="483.4" x2="487.4" y2="596.7" stroke="#666" stroke-width="0.8" />
<line x1="511.6" y1="483.4" x2="511.6" y2="596.7" stroke="#666" stroke-width="0.8" />
<line x1="518.5" y1="483.4" x2="518.5" y2="596.7" stroke="#666" stroke-width="0.8" />
<line x1="547.7" y1="483.4" x2="547.7" y2="596.7" stroke="#666" stroke-width="0.8" />
<line x1="487.4" y1="516.9" x2="547.7" y2="516.9" stroke="#444" stroke-width="0.8" />
<line x1="487.4" y1="515.5" x2="487.4" y2="518.3" stroke="#333" stroke-width="0.9" />
<line x1="547.7" y1="515.5" x2="547.7" y2="518.3" stroke="#333" stroke-width="0.9" />
<path d="M477.8,596.5 L479.3,595.6 L481.6,595 L483.5,594 L484.8,591.8 L486.4,589.8 L488.5,589.1 L490.6,590.3 L492.8,590.6 L495,590.2 L497.1,589.2 L499,587.8 L501.25,585.5 L502.55,582.8 L503.65,579.8 L504.95,573.6 L506.25,565.6 L507.15,558.4 L507.95,551.3 L508.65,544.2 L509.35,537 L510.15,530 L510.95,522.8 L511.55,515.6 L512.15,508.5 L513.05,501 L514.05,494.3 L515.15,490.6 L516.45,489.3 L512.9,489.3 L512.9,596.5 Z" fill="#000"/>
<path d="M512.6,500.5 L513.5,494.3 L514.6,490.6 L515.9,489.3 L517.3,490.6 L518.5,494.3 L518.5,596.5 L512.6,596.5 Z" fill="#9a9a9a"/>
<path d="M477.8,596.5 L479.3,595.6 L481.6,595 L483.5,594 L484.8,591.8 L486.4,589.8 L488.5,589.1 L490.6,590.3 L492.8,590.6 L495,590.2 L497.1,589.2 L499,587.8 L501.25,585.5 L502.55,582.8 L503.65,579.8 L504.95,573.6 L506.25,565.6 L507.15,558.4 L507.95,551.3 L508.65,544.2 L509.35,537 L510.15,530 L510.95,522.8 L511.55,515.6 L512.15,508.5 L513.05,501 L514.05,494.3 L515.15,490.6 L516.45,489.3 L517.3,490.6 L518.5,494.3 L519.3,501 L519.9,508.5 L520.3,515.6 L520.8,522.8 L521.4,530 L522,537 L522.9,544.2 L523.9,551.3 L524.9,558.4 L525.9,565.6 L527.1,573 L528.5,579.8 L529.5,584.4 L530.6,588.4 L532,591.6 L533.5,594.1 L534.8,595.4 L536.3,596.3" fill="none" stroke="#000" stroke-width="1.5" stroke-linejoin="round"/>
<line x1="518.5" y1="493" x2="518.5" y2="596.5" stroke="#000" stroke-width="1.5" />
<line x1="448.4" y1="596.7" x2="562.8" y2="596.7" stroke="#555" stroke-width="0.9" />
<text font-size="10.4" font-weight="normal" text-anchor="middle" transform="translate(500.6,498.9) scale(1,1.04)" fill="#222">Lo</text>
<text font-size="10.4" font-weight="normal" text-anchor="middle" transform="translate(500.6,511.8) scale(1,1.04)" fill="#222">25.1</text>
<text font-size="10.4" font-weight="normal" text-anchor="middle" transform="translate(533,498.9) scale(1,1.04)" fill="#222">Hi</text>
<text font-size="10.4" font-weight="normal" text-anchor="middle" transform="translate(533.4,511.8) scale(1,1.04)" fill="#222">25.6</text>
<text font-size="11.75" font-weight="bold" text-anchor="start" transform="translate(450.4,610) scale(1,1.04)" >2-NBDG</text>
<polygon points="496.8,610 557.6,610 557.6,613.1 564.4,606.7 557.6,600.3 557.6,603.4 496.8,603.4" fill="#000" stroke="#000" stroke-width="0.4" stroke-linejoin="miter"/>
<polygon points="433.22,590.86 251.48,651.69 250.34,648.28 244.5,657.3 254.59,660.99 253.45,657.57 435.18,596.74" fill="#a6a6a6" stroke="#000" stroke-width="1.1" stroke-linejoin="miter"/>
<polygon points="581.73,589.37 610.38,638.21 607.1,640.14 616.9,643.2 619.01,633.15 615.73,635.08 587.07,586.23" fill="#a6a6a6" stroke="#000" stroke-width="1.1" stroke-linejoin="miter"/>
<text font-size="17.3" font-weight="bold" text-anchor="start" transform="translate(113.3,665.5) scale(1,1.04)" >J</text>
<text font-size="11.75" font-weight="bold" text-anchor="end" transform="translate(165.6,695.5) scale(1,1.04)" >GnRH</text>
<text font-size="11.75" font-weight="bold" text-anchor="end" transform="translate(165.6,725.1) scale(1,1.04)" >Lo</text>
<text font-size="11.75" font-weight="bold" text-anchor="end" transform="translate(165.6,759.3) scale(1,1.04)" >Hi</text>
<rect x="194.3" y="688.8" width="4.2" height="1.9" fill="#000" />
<rect x="227.7" y="687.5" width="7.4" height="1.9" fill="#000" />
<rect x="230.45" y="684.75" width="1.9" height="7.4" fill="#000" />
<g id="plate">
<defs>
<radialGradient id="well" cx="0.62" cy="0.62" r="0.75">
<stop offset="0" stop-color="#dadada"/><stop offset="0.7" stop-color="#d0d0d0"/><stop offset="1" stop-color="#bdbdbd"/>
</radialGradient>
</defs>
<rect x="174" y="698.5" width="86" height="82.6" rx="7" ry="7" fill="#e6e6e6" stroke="#5c5c5c" stroke-width="0.9"/>
<rect x="176" y="700.5" width="82" height="78.6" rx="6" ry="6" fill="#d6d6d6" stroke="#7c7c7c" stroke-width="0.8"/>
<rect x="178.5" y="702.8" width="76.9" height="74" rx="4.8" ry="4.8" fill="#f1f1f1" stroke="#505050" stroke-width="1.7"/>
<rect x="179.9" y="704.2" width="74.1" height="71.2" rx="4.2" ry="4.2" fill="#f1f1f1" stroke="#a8a8a8" stroke-width="0.9"/>

<clipPath id="wc0"><circle cx="201.5" cy="721.9" r="13.5"/></clipPath>
<circle cx="201.5" cy="721.9" r="13.5" fill="#989898"/>
<g clip-path="url(#wc0)"><circle cx="205.0" cy="724.3" r="14.1" fill="#d5d5d5"/></g>
<circle cx="201.5" cy="721.9" r="13.5" fill="none" stroke="#e2e2e2" stroke-width="0.8"/>
<clipPath id="wc1"><circle cx="234" cy="721.9" r="13.5"/></clipPath>
<circle cx="234" cy="721.9" r="13.5" fill="#989898"/>
<g clip-path="url(#wc1)"><circle cx="237.5" cy="724.3" r="14.1" fill="#d5d5d5"/></g>
<circle cx="234" cy="721.9" r="13.5" fill="none" stroke="#e2e2e2" stroke-width="0.8"/>
<clipPath id="wc2"><circle cx="201.5" cy="755.1" r="13.5"/></clipPath>
<circle cx="201.5" cy="755.1" r="13.5" fill="#989898"/>
<g clip-path="url(#wc2)"><circle cx="205.0" cy="757.5" r="14.1" fill="#d5d5d5"/></g>
<circle cx="201.5" cy="755.1" r="13.5" fill="none" stroke="#e2e2e2" stroke-width="0.8"/>
<clipPath id="wc3"><circle cx="234" cy="755.1" r="13.5"/></clipPath>
<circle cx="234" cy="755.1" r="13.5" fill="#989898"/>
<g clip-path="url(#wc3)"><circle cx="237.5" cy="757.5" r="14.1" fill="#d5d5d5"/></g>
<circle cx="234" cy="755.1" r="13.5" fill="none" stroke="#e2e2e2" stroke-width="0.8"/>
<g fill="none" stroke="#707070" stroke-width="0.75" stroke-linejoin="round">
<path d="M198.6,713.6 l3.4,-1.4 l5.4,0.8 l2.6,3.4 l-1.6,4.6 l-5.6,1.6 l-4.4,-2.4 l-1,-3.6 z"/>
<ellipse cx="203.6" cy="718.6" rx="3.2" ry="1.9" transform="rotate(-10 203.6 718.6)"/>
<path d="M194,726.8 l3.2,-3.6 l5,-1.6 l3.2,2.6 l0.4,5 l-3.8,3.4 l-5.6,0.2 l-2.4,-3 z"/>
<ellipse cx="200" cy="729.6" rx="3" ry="2.1" transform="rotate(-25 200 729.6)"/>
<path d="M206.4,724.6 l3.6,-2.4 l4.6,0.6 l0.4,4.2 l-2.4,4.6 l-4.2,1.2 l-2.4,-3.6 z"/>
<ellipse cx="209.4" cy="728.4" rx="1.9" ry="2.8" transform="rotate(20 209.4 728.4)"/>
<path d="M231.8,713.4 l5,-1.2 l6.4,1.6 l1.8,4.2 l-3,4.4 l-6,0.2 l-3.8,-3 z"/>
<ellipse cx="238.6" cy="718.2" rx="3.3" ry="1.9" transform="rotate(-5 238.6 718.2)"/>
<path d="M226.2,719.6 l3.8,-2.8 l4.6,1.2 l2.6,4.2 l-1.4,4.6 l-4.6,1.4 l-4.2,-3 l-1.4,-3.4 z"/>
<ellipse cx="230.8" cy="723.4" rx="2" ry="3" transform="rotate(-30 230.8 723.4)"/>
<path d="M230.6,728.4 l4.6,-3.6 l4.8,0.6 l1.6,4.6 l-2.8,3.8 l-5.6,0.6 l-3.2,-2.6 z"/>
<ellipse cx="235.6" cy="730.8" rx="3.2" ry="1.8" transform="rotate(15 235.6 730.8)"/>
<path d="M204,746 l3.8,-2.4 l4.6,1.2 l2.2,4.2 l-2.4,4.2 l-4.8,0.4 l-3.4,-3.4 z"/>
<ellipse cx="209.6" cy="749.6" rx="1.8" ry="2.9" transform="rotate(20 209.6 749.6)"/>
<path d="M196,756.8 l3.6,-3.6 l5.2,0.4 l2.4,4.2 l-1.8,5 l-4.6,2.4 l-4.6,-2 l-1.2,-3.6 z"/>
<ellipse cx="200.8" cy="759.6" rx="2.2" ry="3" transform="rotate(30 200.8 759.6)"/>
<path d="M206.6,756.4 l4.4,-1.2 l4.6,2.2 l-0.4,4.2 l-4.2,2.6 l-4.4,-2.2 z"/>
<ellipse cx="210.6" cy="760" rx="2.8" ry="1.6"/>
<path d="M230.6,746.6 l4.2,-2.4 l5.2,1 l1.8,3.8 l-2.8,4.2 l-5.4,0.8 l-3.6,-3.2 z"/>
<ellipse cx="235.6" cy="748.8" rx="2.9" ry="2" transform="rotate(-15 235.6 748.8)"/>
<path d="M232.6,760.6 l4.4,-2.8 l5.4,1.2 l1.6,4 l-2.6,4 l-5.8,0.4 l-3.4,-3 z"/>
<ellipse cx="237.8" cy="764.4" rx="3" ry="1.7"/>
</g>
</g>
<polygon points="273,742.5 301.4,742.5 301.4,746.2 311.6,739.5 301.4,732.8 301.4,736.5 273,736.5" fill="#a6a6a6" stroke="#000" stroke-width="1.1" stroke-linejoin="miter"/>
<text font-size="17.3" font-weight="bold" text-anchor="start" transform="translate(306.5,665.6) scale(1,1.04)" >K</text>
<line x1="395.3" y1="753.7" x2="395.3" y2="760.9" stroke="#000" stroke-width="1.9" />
<line x1="388.9" y1="754.4" x2="401.7" y2="754.4" stroke="#000" stroke-width="1.9" />
<rect x="382.3" y="760.4" width="26" height="33.2" fill="#000" />
<text font-size="11.3" font-weight="bold" text-anchor="middle" transform="translate(395,749.2) scale(1,1.04)" >a</text>
<line x1="435.3" y1="714" x2="435.3" y2="723.7" stroke="#000" stroke-width="1.9" />
<line x1="428.9" y1="714.7" x2="441.7" y2="714.7" stroke="#000" stroke-width="1.9" />
<rect x="422.3" y="723.2" width="26" height="70.4" fill="#000" />
<rect x="424.8" y="725.7" width="21" height="68.1" fill="#fff" />
<text font-size="11.3" font-weight="bold" text-anchor="middle" transform="translate(435,705.9) scale(1,1.04)" >b</text>
<line x1="474.8" y1="746.3" x2="474.8" y2="752.7" stroke="#000" stroke-width="1.9" />
<line x1="468.4" y1="747" x2="481.2" y2="747" stroke="#000" stroke-width="1.9" />
<rect x="461.8" y="752.2" width="26" height="41.4" fill="#000" />
<text font-size="11.3" font-weight="bold" text-anchor="middle" transform="translate(474.5,739.6) scale(1,1.04)" >c</text>
<line x1="514.2" y1="679.6" x2="514.2" y2="687.9" stroke="#000" stroke-width="1.9" />
<line x1="507.8" y1="680.3" x2="520.6" y2="680.3" stroke="#000" stroke-width="1.9" />
<rect x="501.2" y="687.4" width="26" height="106.2" fill="#000" />
<rect x="503.7" y="689.9" width="21" height="103.9" fill="#fff" />
<text font-size="11.3" font-weight="bold" text-anchor="middle" transform="translate(513.9,674.2) scale(1,1.04)" >d</text>
<line x1="369" y1="664.95" x2="369" y2="794.55" stroke="#000" stroke-width="1.9" />
<line x1="362.8" y1="793.6" x2="369" y2="793.6" stroke="#000" stroke-width="1.9" />
<text font-size="11.3" font-weight="bold" text-anchor="end" transform="translate(360.6,797.65) scale(1,1.04)" >1</text>
<line x1="362.8" y1="772.32" x2="369" y2="772.32" stroke="#000" stroke-width="1.9" />
<text font-size="11.3" font-weight="bold" text-anchor="end" transform="translate(360.6,776.36) scale(1,1.04)" >2</text>
<line x1="362.8" y1="751.03" x2="369" y2="751.03" stroke="#000" stroke-width="1.9" />
<text font-size="11.3" font-weight="bold" text-anchor="end" transform="translate(360.6,755.08) scale(1,1.04)" >4</text>
<line x1="362.8" y1="729.75" x2="369" y2="729.75" stroke="#000" stroke-width="1.9" />
<text font-size="11.3" font-weight="bold" text-anchor="end" transform="translate(360.6,733.8) scale(1,1.04)" >8</text>
<line x1="362.8" y1="708.47" x2="369" y2="708.47" stroke="#000" stroke-width="1.9" />
<text font-size="11.3" font-weight="bold" text-anchor="end" transform="translate(360.6,712.51) scale(1,1.04)" >16</text>
<line x1="362.8" y1="687.18" x2="369" y2="687.18" stroke="#000" stroke-width="1.9" />
<text font-size="11.3" font-weight="bold" text-anchor="end" transform="translate(360.6,691.23) scale(1,1.04)" >32</text>
<line x1="362.8" y1="665.9" x2="369" y2="665.9" stroke="#000" stroke-width="1.9" />
<text font-size="11.3" font-weight="bold" text-anchor="end" transform="translate(360.6,669.95) scale(1,1.04)" >64</text>
<line x1="368.05" y1="793.6" x2="541.8" y2="793.6" stroke="#000" stroke-width="1.9" />
<line x1="395" y1="793.6" x2="395" y2="799.8" stroke="#000" stroke-width="1.9" />
<text font-size="11.3" font-weight="bold" text-anchor="end" transform="translate(395.7,807.6) rotate(-45) scale(1,1.04)" x="0" y="0" dy="0.36em">Lo</text>
<line x1="435" y1="793.6" x2="435" y2="799.8" stroke="#000" stroke-width="1.9" />
<text font-size="11.3" font-weight="bold" text-anchor="end" transform="translate(435.7,807.6) rotate(-45) scale(1,1.04)" x="0" y="0" dy="0.36em">Hi</text>
<line x1="474.5" y1="793.6" x2="474.5" y2="799.8" stroke="#000" stroke-width="1.9" />
<text font-size="11.3" font-weight="bold" text-anchor="end" transform="translate(475.2,807.6) rotate(-45) scale(1,1.04)" x="0" y="0" dy="0.36em">Lo</text>
<line x1="513.9" y1="793.6" x2="513.9" y2="799.8" stroke="#000" stroke-width="1.9" />
<text font-size="11.3" font-weight="bold" text-anchor="end" transform="translate(514.6,807.6) rotate(-45) scale(1,1.04)" x="0" y="0" dy="0.36em">Hi</text>
<text font-size="11.65" font-weight="bold" text-anchor="middle" transform="translate(340.6,732.3) rotate(-90) scale(1,1.04)" >LH pg/mL/min/250k cells</text>
<text font-size="11.75" font-weight="bold" text-anchor="start" transform="translate(341,840.2) scale(1,1.04)" >GnRH</text>
<rect x="393" y="836.1" width="4.6" height="2.1" fill="#000" />
<rect x="429.2" y="836.1" width="4.6" height="2.1" fill="#000" />
<rect x="469.8" y="834.6" width="8.8" height="2.1" fill="#000" />
<rect x="473.15" y="831.2" width="2.1" height="8.8" fill="#000" />
<rect x="509.6" y="834.6" width="8.8" height="2.1" fill="#000" />
<rect x="512.95" y="831.2" width="2.1" height="8.8" fill="#000" />
<text font-size="17.3" font-weight="bold" text-anchor="start" transform="translate(540,665.5) scale(1,1.04)" >L</text>
<line x1="629" y1="744.3" x2="629" y2="754.4" stroke="#000" stroke-width="1.9" />
<line x1="623.5" y1="745" x2="634.5" y2="745" stroke="#000" stroke-width="1.9" />
<rect x="617.6" y="753.9" width="22.8" height="39.3" fill="#000" />
<line x1="663.8" y1="688.4" x2="663.8" y2="697.5" stroke="#000" stroke-width="1.9" />
<line x1="658.3" y1="689.1" x2="669.3" y2="689.1" stroke="#000" stroke-width="1.9" />
<rect x="652.4" y="697" width="22.8" height="96.2" fill="#000" />
<rect x="654.9" y="699.5" width="17.8" height="93.9" fill="#fff" />
<text font-size="17.2" font-weight="normal" text-anchor="middle" transform="translate(663.5,685.54) scale(1,1.04)" >*</text>
<line x1="606.3" y1="664.75" x2="606.3" y2="794.15" stroke="#000" stroke-width="1.9" />
<line x1="600.1" y1="793.2" x2="606.3" y2="793.2" stroke="#000" stroke-width="1.9" />
<text font-size="11.3" font-weight="bold" text-anchor="end" transform="translate(597.8,797.25) scale(1,1.04)" >0</text>
<line x1="600.1" y1="750.7" x2="606.3" y2="750.7" stroke="#000" stroke-width="1.9" />
<text font-size="11.3" font-weight="bold" text-anchor="end" transform="translate(597.8,754.75) scale(1,1.04)" >100</text>
<line x1="600.1" y1="708.2" x2="606.3" y2="708.2" stroke="#000" stroke-width="1.9" />
<text font-size="11.3" font-weight="bold" text-anchor="end" transform="translate(597.8,712.25) scale(1,1.04)" >200</text>
<line x1="600.1" y1="665.7" x2="606.3" y2="665.7" stroke="#000" stroke-width="1.9" />
<text font-size="11.3" font-weight="bold" text-anchor="end" transform="translate(597.8,669.75) scale(1,1.04)" >300</text>
<line x1="605.35" y1="793.2" x2="685" y2="793.2" stroke="#000" stroke-width="1.9" />
<line x1="628.8" y1="793.2" x2="628.8" y2="799.4" stroke="#000" stroke-width="1.9" />
<text font-size="11.3" font-weight="bold" text-anchor="end" transform="translate(629.5,807.2) rotate(-45) scale(1,1.04)" x="0" y="0" dy="0.36em">Lo</text>
<line x1="663.9" y1="793.2" x2="663.9" y2="799.4" stroke="#000" stroke-width="1.9" />
<text font-size="11.3" font-weight="bold" text-anchor="end" transform="translate(664.6,807.2) rotate(-45) scale(1,1.04)" x="0" y="0" dy="0.36em">Hi</text>
<text font-size="11.35" font-weight="bold" text-anchor="middle" transform="translate(571.2,732.4) rotate(-90) scale(1,1.04)" >MFI GLUT1</text>
</svg>
</body>
</html>
